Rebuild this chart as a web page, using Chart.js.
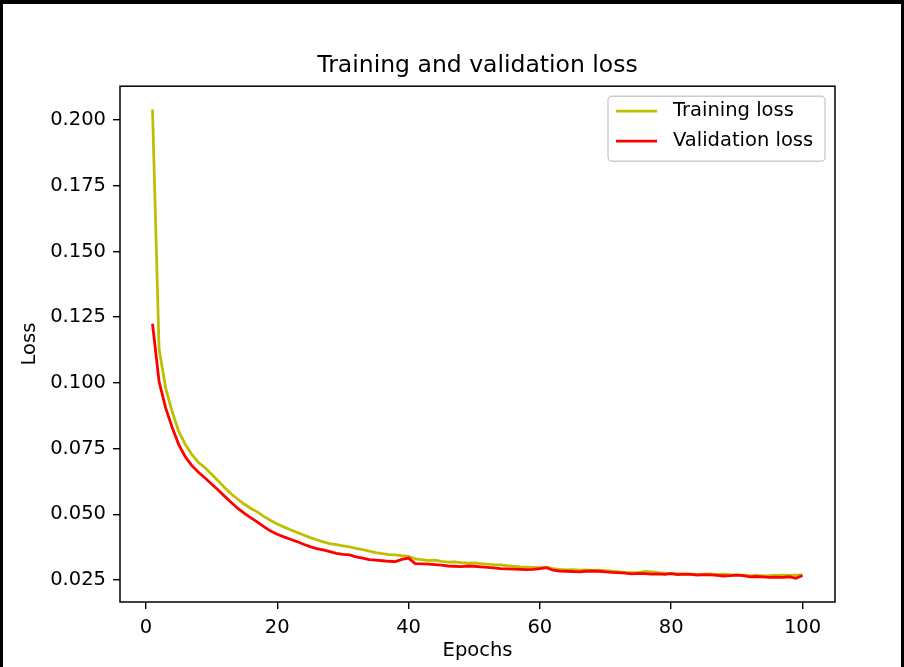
<!DOCTYPE html>
<html><head><meta charset="utf-8">
<script src="https://cdn.jsdelivr.net/npm/chart.js@4.4.0/dist/chart.umd.min.js"></script>
<style>html,body{margin:0;padding:0;background:#fff;}canvas{display:block;}</style>
</head><body>
<canvas id="c" width="904" height="667"></canvas>
<script>
const epochs = [1,2,3,4,5,6,7,8,9,10,11,12,13,14,15,16,17,18,19,20,21,22,23,24,25,26,27,28,29,30,31,32,33,34,35,36,37,38,39,40,41,42,43,44,45,46,47,48,49,50,51,52,53,54,55,56,57,58,59,60,61,62,63,64,65,66,67,68,69,70,71,72,73,74,75,76,77,78,79,80,81,82,83,84,85,86,87,88,89,90,91,92,93,94,95,96,97,98,99,100];
const trainingLoss = [0.2040,0.1130,0.0980,0.0890,0.0815,0.0765,0.0727,0.0697,0.0677,0.0652,0.0627,0.0601,0.0577,0.0557,0.0538,0.0522,0.0508,0.0491,0.0476,0.0463,0.0452,0.0441,0.0431,0.0421,0.0411,0.0403,0.0395,0.0388,0.0384,0.0380,0.0376,0.0370,0.0365,0.0360,0.0354,0.0350,0.0346,0.0345,0.0342,0.0340,0.0330,0.0327,0.0324,0.0325,0.0321,0.0318,0.0319,0.0316,0.0314,0.0315,0.0312,0.0310,0.0308,0.0307,0.0304,0.0302,0.0300,0.0299,0.0298,0.0297,0.0299,0.0293,0.0290,0.0288,0.0289,0.0287,0.0288,0.0286,0.0287,0.0285,0.0283,0.0281,0.0279,0.0278,0.0279,0.0282,0.0281,0.0278,0.0276,0.0275,0.0274,0.0272,0.0273,0.0271,0.0272,0.0273,0.0271,0.0272,0.0270,0.0269,0.0268,0.0266,0.0267,0.0265,0.0266,0.0267,0.0268,0.0267,0.0268,0.0269];
const validationLoss = [0.1225,0.1005,0.0905,0.0830,0.0765,0.0718,0.0685,0.0660,0.0638,0.0615,0.0592,0.0568,0.0545,0.0522,0.0503,0.0486,0.0470,0.0452,0.0436,0.0424,0.0414,0.0405,0.0396,0.0386,0.0377,0.0369,0.0364,0.0358,0.0351,0.0347,0.0345,0.0338,0.0333,0.0327,0.0325,0.0323,0.0321,0.0320,0.0328,0.0333,0.0312,0.0311,0.0310,0.0308,0.0306,0.0303,0.0302,0.0301,0.0303,0.0302,0.0300,0.0298,0.0296,0.0293,0.0292,0.0291,0.0290,0.0289,0.0290,0.0293,0.0297,0.0287,0.0284,0.0283,0.0282,0.0281,0.0283,0.0284,0.0283,0.0281,0.0279,0.0278,0.0276,0.0273,0.0275,0.0274,0.0272,0.0273,0.0271,0.0274,0.0270,0.0272,0.0271,0.0268,0.0270,0.0269,0.0267,0.0265,0.0266,0.0268,0.0266,0.0262,0.0263,0.0262,0.0260,0.0261,0.0260,0.0262,0.0256,0.0267];
const xTickValues = [0,20,40,60,80,100];
const yTickValues = [0.025,0.050,0.075,0.100,0.125,0.150,0.175,0.200];
const seriesLabels = ['Training loss','Validation loss'];
const seriesColors = ['#bfbf00','#ff0000'];

Chart.defaults.font.family = 'DejaVu Sans';
Chart.defaults.color = '#000';

const decorPlugin = {
  id: 'decor',
  afterDatasetsDraw(chart) {
    const {ctx, chartArea: a} = chart;
    ctx.save();
    ctx.strokeStyle = '#000';
    ctx.lineWidth = 1.5;
    ctx.strokeRect(a.left, a.top, a.right - a.left, a.bottom - a.top);
    ctx.restore();
  },
  afterDraw(chart) {
    const {ctx, chartArea: a} = chart;
    ctx.save();
    // legend box
    const w = 217, h = 65;
    const x0 = a.right - 10 - w, y0 = a.top + 10;
    ctx.beginPath();
    ctx.roundRect(x0, y0, w, h, 4);
    ctx.fillStyle = 'rgba(255,255,255,0.8)';
    ctx.fill();
    ctx.strokeStyle = '#cccccc';
    ctx.lineWidth = 1.4;
    ctx.stroke();
    ctx.font = '19.5px "DejaVu Sans"';
    ctx.textBaseline = 'middle';
    ctx.textAlign = 'left';
    chart.data.datasets.forEach((ds, i) => {
      const cy = y0 + 15 + i * 30;
      ctx.beginPath();
      ctx.moveTo(x0 + 8, cy);
      ctx.lineTo(x0 + 49, cy);
      ctx.strokeStyle = ds.borderColor;
      ctx.lineWidth = 2.8;
      ctx.stroke();
      ctx.fillStyle = '#000';
      ctx.fillText(ds.label, x0 + 65, cy);
    });
    // outer frame of the picture
    ctx.fillStyle = '#000';
    ctx.fillRect(0, 0, 904, 4);
    ctx.fillRect(0, 0, 3, 667);
    ctx.fillRect(901, 0, 3, 667);
    ctx.restore();
  }
};

const tickFont = {size: 19.5};
new Chart(document.getElementById('c'), {
  type: 'line',
  data: {
    datasets: [
      {label: seriesLabels[0], data: epochs.map((e, i) => ({x: e, y: trainingLoss[i]})), borderColor: seriesColors[0], backgroundColor: seriesColors[0], borderWidth: 2.8, pointRadius: 0, tension: 0, fill: false, order: 1},
      {label: seriesLabels[1], data: epochs.map((e, i) => ({x: e, y: validationLoss[i]})), borderColor: seriesColors[1], backgroundColor: seriesColors[1], borderWidth: 2.8, pointRadius: 0, tension: 0, fill: false, order: 0}
    ]
  },
  options: {
    responsive: false,
    animation: false,
    events: [],
    devicePixelRatio: 1,
    layout: {padding: {left: 0, right: 69, top: 0, bottom: 0}},
    plugins: {
      legend: {display: false},
      tooltip: {enabled: false},
      title: {display: true, text: 'Training and validation loss', fullSize: false, color: '#000', font: {size: 23.5, weight: 'normal'}, padding: {top: 52, bottom: 6}}
    },
    scales: {
      x: {
        type: 'linear', min: -3.95, max: 104.95,
        afterBuildTicks: s => { s.ticks = xTickValues.map(v => ({value: v})); },
        afterFit: s => { s.height = 65; },
        grid: {display: true, drawOnChartArea: false, drawTicks: true, tickLength: 7, color: '#000', lineWidth: 1.4},
        border: {display: false},
        ticks: {font: tickFont, padding: 7, maxRotation: 0, autoSkip: false, color: '#000', callback: v => String(v)},
        title: {display: true, text: 'Epochs', color: '#000', font: {size: 19.5}, padding: {top: 0, bottom: 4}}
      },
      y: {
        type: 'linear', min: 0.0166, max: 0.2129,
        afterBuildTicks: s => { s.ticks = yTickValues.map(v => ({value: v})); },
        afterFit: s => { s.width = 120; },
        grid: {display: true, drawOnChartArea: false, drawTicks: true, tickLength: 7, color: '#000', lineWidth: 1.4},
        border: {display: false},
        ticks: {font: tickFont, padding: 7, autoSkip: false, color: '#000', callback: v => v.toFixed(3)},
        title: {display: true, text: 'Loss', color: '#000', font: {size: 19.5}, padding: {top: 18, bottom: 0}}
      }
    }
  },
  plugins: [decorPlugin]
});
</script>
</body></html>
